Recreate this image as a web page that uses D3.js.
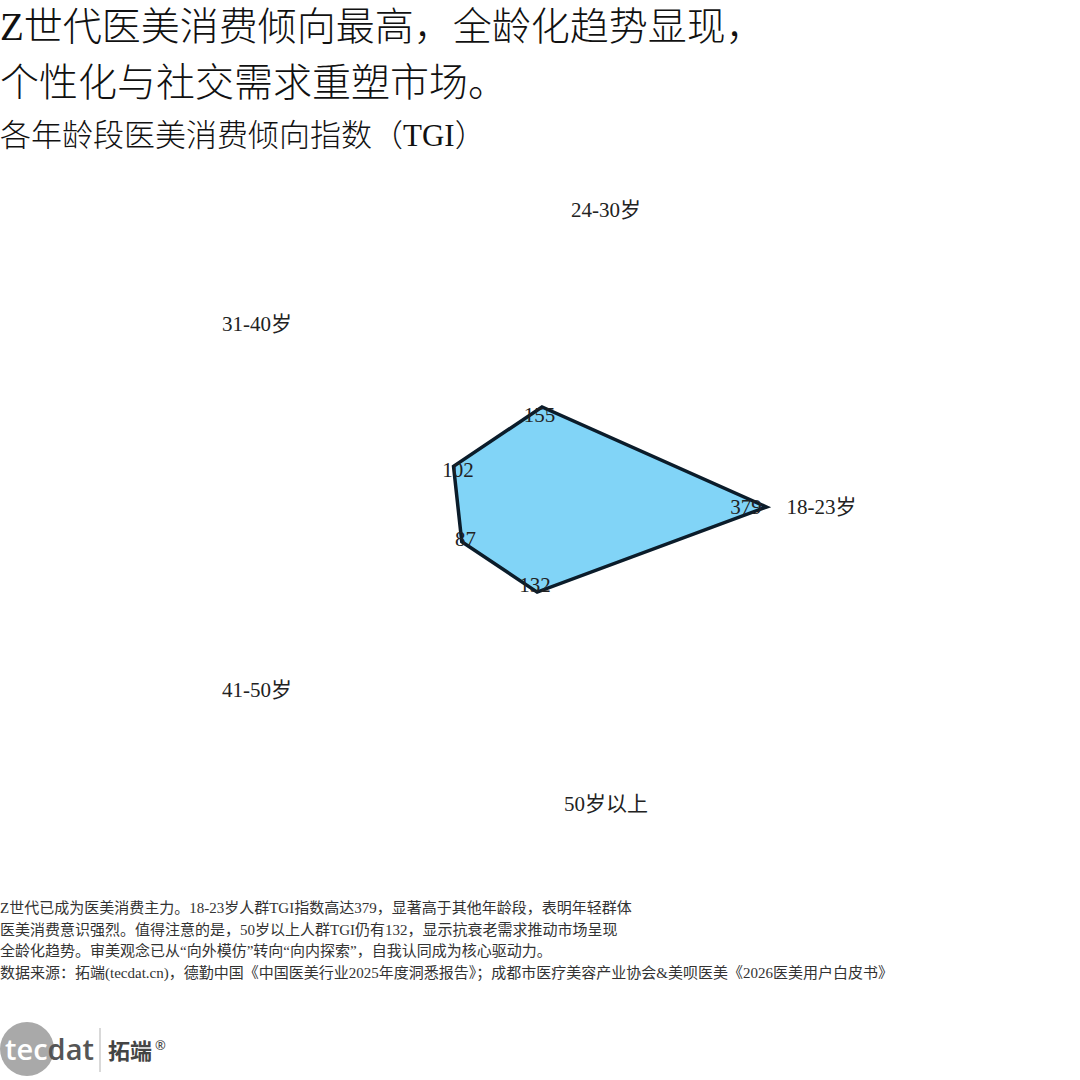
<!DOCTYPE html>
<html><head><meta charset="utf-8">
<script src="https://cdn.jsdelivr.net/npm/d3@7"></script>
<style>
html,body{margin:0;padding:0;background:#fff;}
svg{display:block;}
</style></head>
<body>
<svg id="chart" width="1080" height="1080"></svg>
<script>
const categories = ["18-23岁", "24-30岁", "31-40岁", "41-50岁", "50岁以上"];
const tgiValues = [379, 155, 102, 87, 132];
const titleLines = ["Z世代医美消费倾向最高，全龄化趋势显现，", "个性化与社交需求重塑市场。"];
const subtitle = "各年龄段医美消费倾向指数（TGI）";
const noteLines = [
  "Z世代已成为医美消费主力。18-23岁人群TGI指数高达379，显著高于其他年龄段，表明年轻群体",
  "医美消费意识强烈。值得注意的是，50岁以上人群TGI仍有132，显示抗衰老需求推动市场呈现",
  "全龄化趋势。审美观念已从“向外模仿”转向“向内探索”，自我认同成为核心驱动力。",
  "数据来源：拓端(tecdat.cn)，德勤中国《中国医美行业2025年度洞悉报告》；成都市医疗美容产业协会&美呗医美《2026医美用户白皮书》"
];

const FONT = "'Liberation Serif', 'Noto Sans CJK SC', serif";
const svg = d3.select("#chart");

// Titles
svg.append("g").selectAll("text").data(titleLines).join("text")
  .attr("x", 0).attr("y", (d, i) => 40 + i * 56)
  .attr("font-family", FONT).attr("font-size", 39).attr("font-weight", 300).attr("fill", "#111")
  .text(d => d);
svg.append("text").attr("x", 0).attr("y", 146)
  .attr("font-family", FONT).attr("font-size", 31).attr("font-weight", 300).attr("fill", "#111")
  .text(subtitle);

// Radar
const cx = 509.5, cy = 507;
const r = d3.scaleLinear().domain([0, 460]).range([0, 312]);
const angle = d3.scaleLinear().domain([0, categories.length]).range([0, 2 * Math.PI]);
const pt = (i, rad) => [cx + rad * Math.cos(angle(i)), cy - rad * Math.sin(angle(i))];

const g = svg.append("g");
const line = d3.line().curve(d3.curveLinearClosed);
g.append("path")
  .attr("d", line(tgiValues.map((v, i) => pt(i, r(v)))))
  .attr("fill", "#81d4f7")
  .attr("stroke", "#0b1c2a")
  .attr("stroke-width", 3.5)
  .attr("stroke-linejoin", "miter");

// value labels
g.selectAll("text.val").data(tgiValues).join("text").attr("class", "val")
  .attr("x", (d, i) => pt(i, r(d) * 0.92)[0])
  .attr("y", (d, i) => pt(i, r(d) * 0.92)[1])
  .attr("text-anchor", "middle").attr("dominant-baseline", "central")
  .attr("font-family", FONT).attr("font-size", 21).attr("fill", "#222")
  .text(d => d);

// axis labels
g.selectAll("text.cat").data(categories).join("text").attr("class", "cat")
  .attr("x", (d, i) => pt(i, r(460))[0])
  .attr("y", (d, i) => pt(i, r(460))[1])
  .attr("text-anchor", "middle").attr("dominant-baseline", "central")
  .attr("font-family", FONT).attr("font-size", 21).attr("fill", "#222")
  .text(d => d);

// Notes
svg.append("g").selectAll("text").data(noteLines).join("text")
  .attr("x", 0).attr("y", (d, i) => 913 + i * 21.5)
  .attr("font-family", FONT).attr("font-size", 15).attr("fill", "#333")
  .text(d => d);

// Logo
const logo = svg.append("g");
logo.append("circle").attr("cx", 27).attr("cy", 1049).attr("r", 27).attr("fill", "#a9a9a9");
const lt = logo.append("text").attr("x", 5).attr("y", 1060)
  .attr("font-family", "'Open Sans', 'Noto Sans', sans-serif").attr("font-size", 29).attr("font-weight", 600);
lt.append("tspan").attr("fill", "#fff").text("tec");
lt.append("tspan").attr("fill", "#555").text("dat");
logo.append("line").attr("x1", 100).attr("x2", 100).attr("y1", 1028).attr("y2", 1072)
  .attr("stroke", "#ccc").attr("stroke-width", 1.5);
logo.append("text").attr("x", 108).attr("y", 1059)
  .attr("font-family", "'Noto Sans CJK SC', sans-serif").attr("font-weight", "bold")
  .attr("font-size", 22).attr("fill", "#444").text("拓端");
logo.append("text").attr("x", 155).attr("y", 1050)
  .attr("font-family", "'Noto Sans', sans-serif").attr("font-size", 13).attr("fill", "#444").text("®");
</script>
</body></html>
